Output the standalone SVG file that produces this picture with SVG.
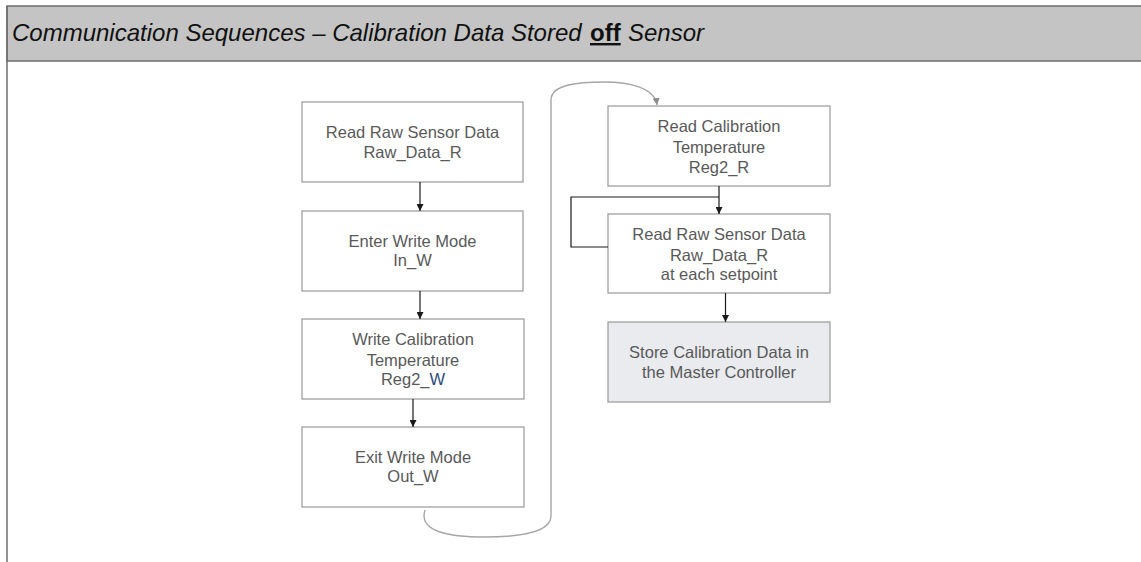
<svg xmlns="http://www.w3.org/2000/svg" width="1141" height="562" viewBox="0 0 1141 562">
<style>
.box{fill:#ffffff;stroke:#a0a0a0;stroke-width:1.3}
.store{fill:#e9ebee;stroke:#a0a0a0;stroke-width:1.3}
.t{font-family:"Liberation Sans",Arial,sans-serif;font-size:16.5px;fill:#595959;text-anchor:middle}
.h{font-family:"Liberation Sans",Arial,sans-serif;font-size:24px;fill:#111111}
.c{fill:none;stroke:#1a1a1a;stroke-width:1.2}
.g{fill:none;stroke:#a6a6a6;stroke-width:1.4}
</style>
<defs>
<marker id="ah" viewBox="0 0 10 10" refX="10" refY="5" markerWidth="7" markerHeight="7" markerUnits="userSpaceOnUse" orient="auto"><path d="M0,0 L10,5 L0,10 z" fill="#1a1a1a"/></marker>
<marker id="ahg" viewBox="0 0 10 10" refX="10" refY="5" markerWidth="7" markerHeight="7" markerUnits="userSpaceOnUse" orient="auto"><path d="M0,0 L10,5 L0,10 z" fill="#8c8c8c"/></marker>
</defs>
<rect x="0" y="0" width="1141" height="562" fill="#ffffff"/>
<g id="header">
<rect x="7" y="6" width="1140" height="55" fill="#c4c4c4" stroke="#6e6e6e" stroke-width="1.5"/>
<line x1="7" y1="6" x2="7" y2="562" stroke="#6e6e6e" stroke-width="1.5"/>
<text class="h" x="12" y="41" font-style="italic">Communication Sequences –  Calibration Data Stored</text>
<text class="h" x="590" y="41" font-weight="bold" text-decoration="underline">off</text>
<text class="h" x="628" y="41" font-style="italic">Sensor</text>
</g>
<g id="n1"><rect class="box" x="302" y="102" width="221" height="80"/><text class="t" x="412.5" y="138">Read Raw Sensor Data</text><text class="t" x="412.5" y="157.5">Raw_Data_R</text></g>
<g id="n2"><rect class="box" x="302" y="211" width="221" height="80"/><text class="t" x="412.5" y="247">Enter Write Mode</text><text class="t" x="412.5" y="266">In_W</text></g>
<g id="n3"><rect class="box" x="302" y="319" width="222" height="80"/><text class="t" x="413" y="345">Write Calibration</text><text class="t" x="413" y="365.5">Temperature</text><text class="t" x="413" y="385">Reg2_<tspan fill="#2e4a7d">W</tspan></text></g>
<g id="n4"><rect class="box" x="302" y="427" width="222" height="80"/><text class="t" x="413" y="463">Exit Write Mode</text><text class="t" x="413" y="482">Out_W</text></g>
<g id="n5"><rect class="box" x="608" y="106" width="222" height="80"/><text class="t" x="719" y="132">Read Calibration</text><text class="t" x="719" y="153">Temperature</text><text class="t" x="719" y="173">Reg2_R</text></g>
<g id="n6"><rect class="box" x="608" y="214" width="222" height="79"/><text class="t" x="719" y="240">Read Raw Sensor Data</text><text class="t" x="719" y="260.5">Raw_Data_R</text><text class="t" x="719" y="280">at each setpoint</text></g>
<g id="n7"><rect class="store" x="608" y="322" width="222" height="80"/><text class="t" x="719" y="358">Store Calibration Data in</text><text class="t" x="719" y="378">the Master Controller</text></g>
<g id="connectors">
<line class="c" x1="420" y1="182" x2="420" y2="211" marker-end="url(#ah)"/>
<line class="c" x1="420" y1="291" x2="420" y2="319" marker-end="url(#ah)"/>
<line class="c" x1="413" y1="399" x2="413" y2="427" marker-end="url(#ah)"/>
<line class="c" x1="719" y1="186" x2="719" y2="214" marker-end="url(#ah)"/>
<polyline class="c" points="719,197 571,197 571,247 608,247"/>
<line class="c" x1="725.5" y1="293" x2="725.5" y2="322" marker-end="url(#ah)"/>
<path class="g" d="M425,510 C418,532 450,537 485,537 C520,537 551,532 551,516 L551,100 C551,84 580,82 604,82 C630,82 655,88 657,105" marker-end="url(#ahg)"/>
</g>
</svg>
